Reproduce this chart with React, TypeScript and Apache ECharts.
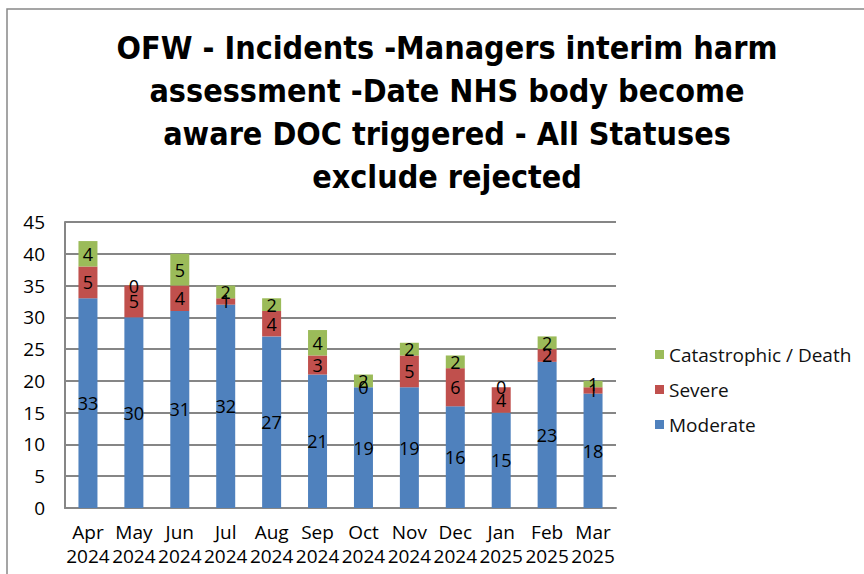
import React, { useEffect, useRef } from "react";
import * as echarts from "echarts";

const categories = [
  "Apr\n2024", "May\n2024", "Jun\n2024", "Jul\n2024", "Aug\n2024", "Sep\n2024",
  "Oct\n2024", "Nov\n2024", "Dec\n2024", "Jan\n2025", "Feb\n2025", "Mar\n2025",
];
const moderate = [33, 30, 31, 32, 27, 21, 19, 19, 16, 15, 23, 18];
const severe = [5, 5, 4, 1, 4, 3, 0, 5, 6, 4, 2, 1];
const catastrophic = [4, 0, 5, 2, 2, 4, 2, 2, 2, 0, 2, 1];

const titleText =
  "OFW - Incidents -Managers interim harm\nassessment -Date NHS body become\naware DOC triggered - All Statuses\nexclude rejected";

const FONT = "'Open Sans', sans-serif";

export default function App() {
  const ref = useRef<HTMLDivElement>(null);
  useEffect(() => {
    if (!ref.current) return;
    const chart = echarts.init(ref.current, null, { renderer: "svg" });
    const label = {
      show: true,
      position: "inside",
      color: "#000",
      fontSize: 18,
      fontFamily: FONT,
    };
    chart.setOption({
      animation: false,
      backgroundColor: "#fff",
      title: {
        text: titleText,
        left: 442,
        top: 21,
        textAlign: "center",
        textStyle: {
          fontFamily: "'Liberation Sans Narrow', 'DejaVu Sans Condensed', sans-serif",
          fontWeight: "bold",
          fontSize: 32,
          lineHeight: 43,
          color: "#000",
        },
      },
      graphic: [
        {
          type: "rect",
          shape: { x: 7, y: 9, width: 900, height: 600 },
          style: { fill: "none", stroke: "#888", lineWidth: 1.5 },
          silent: true,
        },
      ],
      legend: {
        orient: "vertical",
        left: 650,
        top: 339,
        itemWidth: 9,
        itemHeight: 9,
        itemGap: 14,
        icon: "rect",
        data: ["Catastrophic / Death", "Severe", "Moderate"],
        textStyle: { fontFamily: FONT, fontSize: 19, color: "#111", lineHeight: 21, padding: [0, 0, 0, 0] },
      },
      grid: { left: 65, top: 222, width: 551, height: 286 },
      xAxis: {
        type: "category",
        data: categories,
        axisLine: { lineStyle: { color: "#868686", width: 2 } },
        axisTick: { show: false },
        axisLabel: {
          interval: 0,
          margin: 12,
          fontFamily: FONT,
          fontSize: 19,
          lineHeight: 24,
          color: "#000",
        },
      },
      yAxis: {
        type: "value",
        min: 0,
        max: 45,
        interval: 5,
        axisLine: { show: true, lineStyle: { color: "#868686", width: 2 } },
        axisTick: { show: false },
        axisLabel: { margin: 20, fontFamily: FONT, fontSize: 19, color: "#000" },
        splitLine: { lineStyle: { color: "#868686", width: 2 } },
      },
      series: [
        { name: "Moderate", type: "bar", stack: "a", data: moderate, barWidth: 19, itemStyle: { color: "#4F81BD" }, label },
        { name: "Severe", type: "bar", stack: "a", data: severe, barWidth: 19, itemStyle: { color: "#C0504D" }, label },
        { name: "Catastrophic / Death", type: "bar", stack: "a", data: catastrophic, barWidth: 19, itemStyle: { color: "#9BBB59" }, label },
      ],
    });
    return () => chart.dispose();
  }, []);
  return (
    <div
      ref={ref}
      style={{ position: "absolute", left: 0, top: 0, width: 864, height: 574 }}
    />
  );
}
